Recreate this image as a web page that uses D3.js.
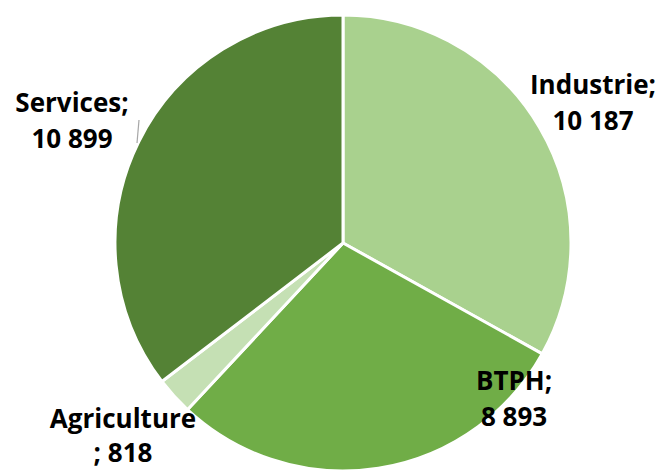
<!DOCTYPE html>
<html lang="fr">
<head>
<meta charset="utf-8">
<script src="https://d3js.org/d3.v7.min.js"></script>
<style>
  body { margin: 0; background: #fff; }
  text { font-family: "Open Sans", "DejaVu Sans", sans-serif; font-weight: bold; font-size: 26px; fill: #000; }
</style>
</head>
<body>
<script>
// données
var secteurs = ["Industrie", "BTPH", "Agriculture", "Services"];
var effectifs = [10187, 8893, 818, 10899];
var couleurs = ["#A9D18E", "#70AD47", "#C5E0B4", "#548235"];

var width = 659, height = 470;
var cx = 343, cy = 243, radius = 228;

// placement des étiquettes (comme dans Excel, déplacées à la main)
var etiquettes = [
  {x: 593, y: 94, l1: "Industrie;", l2: "10 187"},
  {x: 514, y: 390, l1: "BTPH;", l2: "8 893"},
  {x: 123, y: 428, l1: "Agriculture", l2: "; 818"},
  {x: 72, y: 112, l1: "Services;", l2: "10 899"}
];

var svg = d3.select("body").append("svg")
  .attr("width", width).attr("height", height);

var pie = d3.pie().sort(null).value(function(d) { return d; });
var arc = d3.arc().innerRadius(0).outerRadius(radius);

var g = svg.append("g").attr("transform", "translate(" + cx + "," + cy + ")");

g.selectAll("path")
  .data(pie(effectifs))
  .enter()
  .append("path")
  .attr("d", arc)
  .attr("fill", function(d, i) { return couleurs[i]; })
  .attr("stroke", "#fff")
  .attr("stroke-width", 3)
  .attr("stroke-linejoin", "round");

// trait de rappel pour Services
svg.append("line")
  .attr("x1", 139).attr("y1", 120)
  .attr("x2", 137).attr("y2", 143)
  .attr("stroke", "#A6A6A6").attr("stroke-width", 1.2);

var lab = svg.selectAll(".lab")
  .data(etiquettes)
  .enter()
  .append("text")
  .attr("class", "lab")
  .attr("text-anchor", "middle");

lab.append("tspan")
  .attr("x", function(d) { return d.x; })
  .attr("y", function(d) { return d.y; })
  .text(function(d) { return d.l1; });

lab.append("tspan")
  .attr("x", function(d) { return d.x; })
  .attr("y", function(d) { return d.y + (d.y > 420 ? 34 : 36); })
  .text(function(d) { return d.l2; });
</script>
</body>
</html>
